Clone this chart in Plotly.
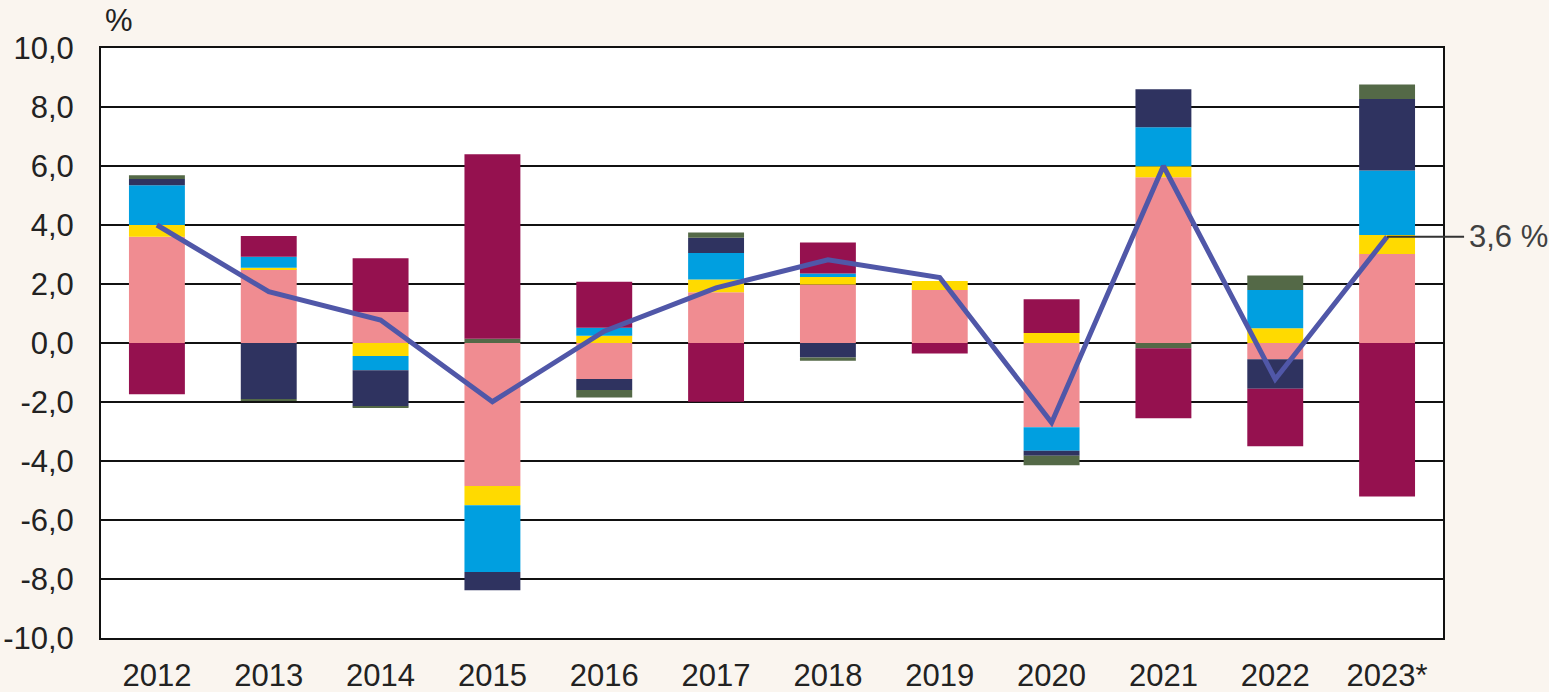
import plotly.graph_objects as go

years = ["2012", "2013", "2014", "2015", "2016", "2017", "2018", "2019", "2020", "2021", "2022", "2023*"]

# Component contributions (percentage points), stacking order bottom -> top
pink   = [3.60, 2.50, 1.05, -4.85, -1.22, 1.72, 1.98, 1.80, -2.86, 5.62, -0.55, 3.02]
yellow = [0.40, 0.05, -0.44, -0.65, 0.25, 0.43, 0.26, 0.30, 0.34, 0.37, 0.50, 0.64]
blue   = [1.35, 0.37, -0.48, -2.26, 0.27, 0.90, 0.12, 0.00, -0.79, 1.32, 1.30, 2.19]
navy   = [0.21, -1.90, -1.22, -0.62, -0.37, 0.52, -0.49, 0.00, -0.17, 1.29, -1.00, 2.42]
green  = [0.13, -0.04, -0.04, 0.14, -0.26, 0.18, -0.11, 0.00, -0.32, -0.18, 0.49, 0.49]
maroon = [-1.74, 0.71, 1.82, 6.26, 1.56, -1.99, 1.05, -0.36, 1.14, -2.37, -1.95, -5.20]

total = [4.0, 1.74, 0.78, -1.99, 0.4, 1.87, 2.82, 2.22, -2.70, 6.0, -1.23, 3.6]

y_ticks = [-10, -8, -6, -4, -2, 0, 2, 4, 6, 8, 10]
y_ticktext = [f"{v:.1f}".replace(".", ",") for v in y_ticks]

series = [
    ("pink", pink, "#F08C91"),
    ("yellow", yellow, "#FFDA00"),
    ("blue", blue, "#009FE0"),
    ("navy", navy, "#2F3360"),
    ("green", green, "#546947"),
    ("maroon", maroon, "#95114F"),
]

FONT = "Liberation Sans, Arial"
BG = "#FAF5EF"

fig = go.Figure()
for name, vals, col in series:
    fig.add_trace(go.Bar(x=years, y=vals, name=name, marker=dict(color=col, line=dict(width=0)),
                         width=0.5))

fig.add_trace(go.Scatter(x=years, y=total, mode="lines", name="total",
                         line=dict(color="#5057A8", width=5)))

label = f"{total[-1]:.1f}".replace(".", ",") + " %"
fig.add_annotation(x=years[-1], y=total[-1], xref="x", yref="y", text=label,
                   showarrow=True, arrowhead=0, arrowwidth=2, arrowcolor="#333333",
                   ax=121, ay=0, borderpad=4,
                   font=dict(family=FONT, size=31, color="#404040"))

fig.add_annotation(x=0, y=1, xref="paper", yref="paper", text="%", showarrow=False,
                   xshift=18, yshift=28, xanchor="center", yanchor="middle",
                   font=dict(family=FONT, size=31, color="#222222"))

fig.update_layout(
    barmode="relative",
    width=1549, height=692,
    margin=dict(l=101, r=106, t=48, b=54, autoexpand=False),
    paper_bgcolor=BG,
    plot_bgcolor="#FFFFFF",
    showlegend=False,
    font=dict(family=FONT, size=31, color="#222222"),
)
fig.update_xaxes(range=[-0.5, len(years) - 0.5], autorange=False,
                 showline=True, linecolor="#111111", linewidth=2, mirror=True,
                 showgrid=False, ticks="", ticklabelstandoff=9, tickfont=dict(size=31))
fig.update_yaxes(range=[-10, 10], autorange=False, tickvals=y_ticks, ticktext=y_ticktext, showline=True,
                 linecolor="#111111", linewidth=2, mirror=True,
                 showgrid=True, gridcolor="#111111", gridwidth=2,
                 zeroline=True, zerolinecolor="#111111", zerolinewidth=2,
                 ticks="", ticklabelstandoff=19, tickfont=dict(size=31))

fig.write_html("out.html", config={"displayModeBar": False},
               post_script="document.body.style.margin='0';document.body.style.background='" + BG + "';")
